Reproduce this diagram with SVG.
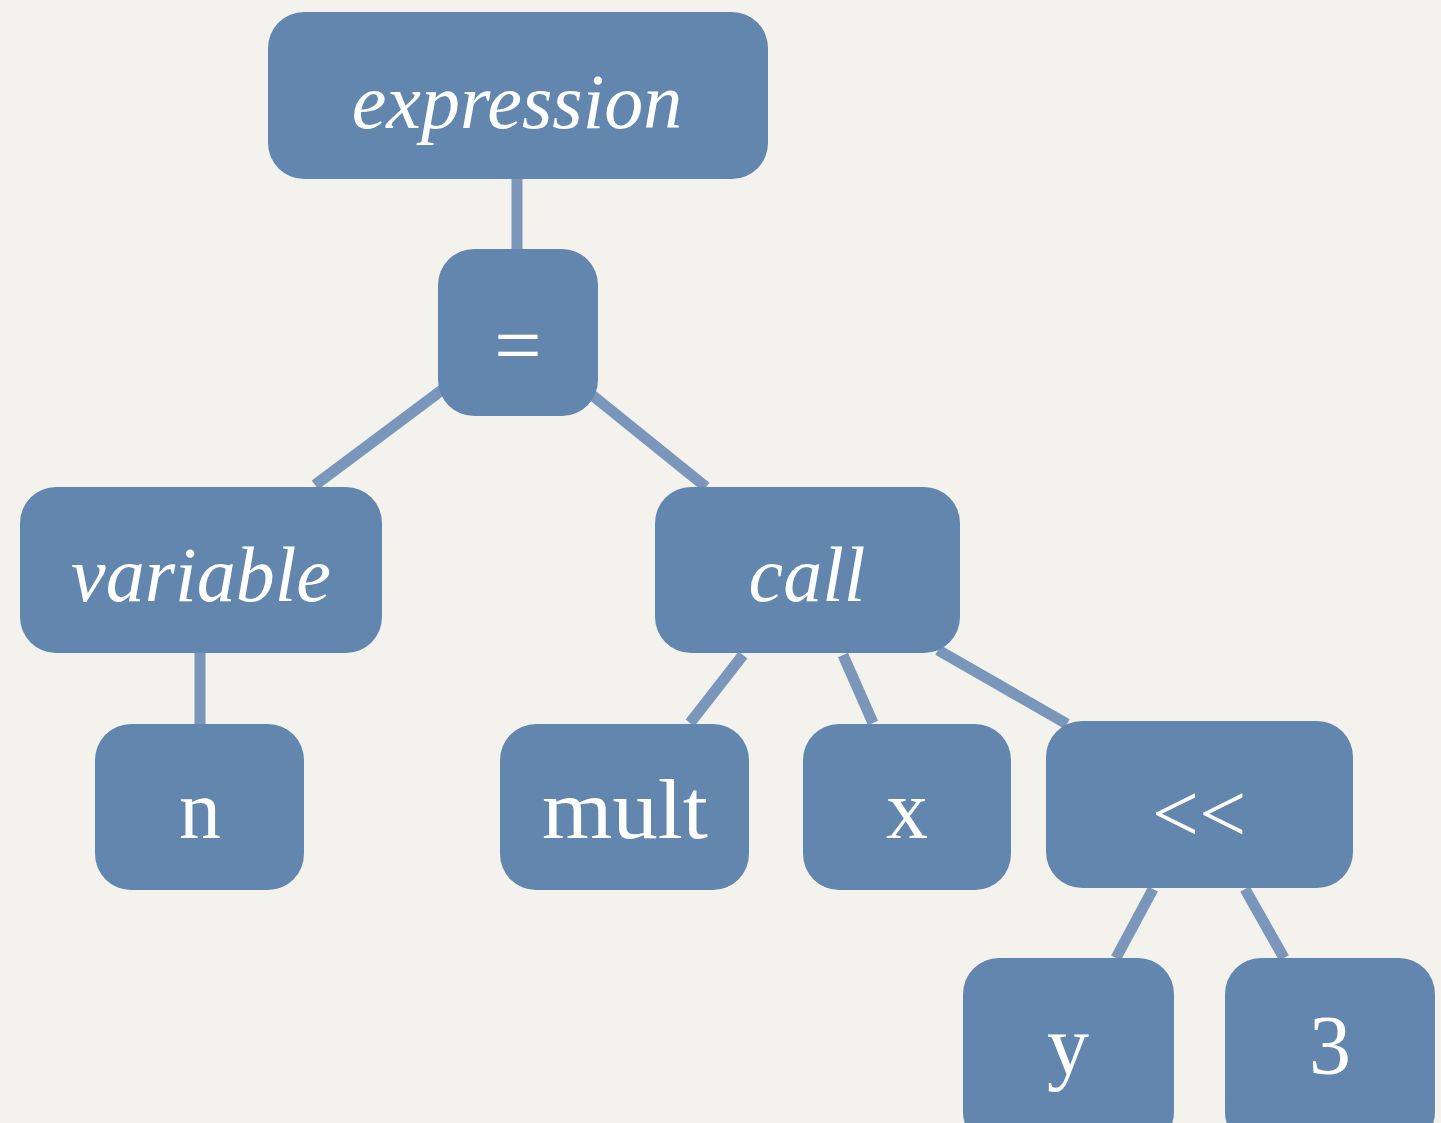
<svg xmlns="http://www.w3.org/2000/svg" width="1441" height="1123" viewBox="0 0 1441 1123">
<style>
.node{fill:#6286ad}
.lbl{fill:#ffffff;font-family:"Liberation Serif","DejaVu Serif",serif;text-anchor:middle}
.it{font-style:italic;font-size:78px}
.up{font-size:84px}
.edge{stroke:#7a97bb;stroke-width:11;fill:none}
</style>
<rect x="0" y="0" width="1441" height="1123" fill="#f4f2ed"/>
<g id="connectors">
<line class="edge" x1="517" y1="178" x2="517" y2="250"/>
<line class="edge" x1="442" y1="390" x2="315" y2="485"/>
<line class="edge" x1="592" y1="395" x2="706" y2="487"/>
<line class="edge" x1="200" y1="652" x2="200" y2="724"/>
<line class="edge" x1="743" y1="655" x2="690" y2="723"/>
<line class="edge" x1="843" y1="655" x2="873" y2="723"/>
<line class="edge" x1="938" y1="650" x2="1067" y2="724"/>
<line class="edge" x1="1153" y1="889" x2="1116" y2="958"/>
<line class="edge" x1="1245" y1="889" x2="1284" y2="958"/>
</g>
<g id="node-expression"><rect class="node" x="268" y="12" width="500" height="167" rx="36"/><text class="lbl it" x="517" y="128">expression</text></g>
<g id="node-eq"><rect class="node" x="438" y="249" width="160" height="167" rx="36"/><text class="lbl up" x="518" y="374">=</text></g>
<g id="node-variable"><rect class="node" x="20" y="487" width="362" height="166" rx="36"/><text class="lbl it" x="201" y="601">variable</text></g>
<g id="node-call"><rect class="node" x="655" y="487" width="305" height="166" rx="36"/><text class="lbl it" x="807" y="601">call</text></g>
<g id="node-n"><rect class="node" x="95" y="724" width="209" height="166" rx="36"/><text class="lbl up" x="200" y="838">n</text></g>
<g id="node-mult"><rect class="node" x="500" y="724" width="249" height="166" rx="36"/><text class="lbl up" x="625" y="838" textLength="166" lengthAdjust="spacingAndGlyphs">mult</text></g>
<g id="node-x"><rect class="node" x="803" y="724" width="208" height="166" rx="36"/><text class="lbl up" x="907" y="838">x</text></g>
<g id="node-shl"><rect class="node" x="1046" y="721" width="307" height="167" rx="36"/><text class="lbl up" x="1199" y="842">&lt;&lt;</text></g>
<g id="node-y"><rect class="node" x="963" y="958" width="211" height="190" rx="36"/><text class="lbl up" x="1068" y="1074">y</text></g>
<g id="node-3"><rect class="node" x="1225" y="958" width="210" height="190" rx="36"/><text class="lbl up" x="1330" y="1074">3</text></g>
</svg>
